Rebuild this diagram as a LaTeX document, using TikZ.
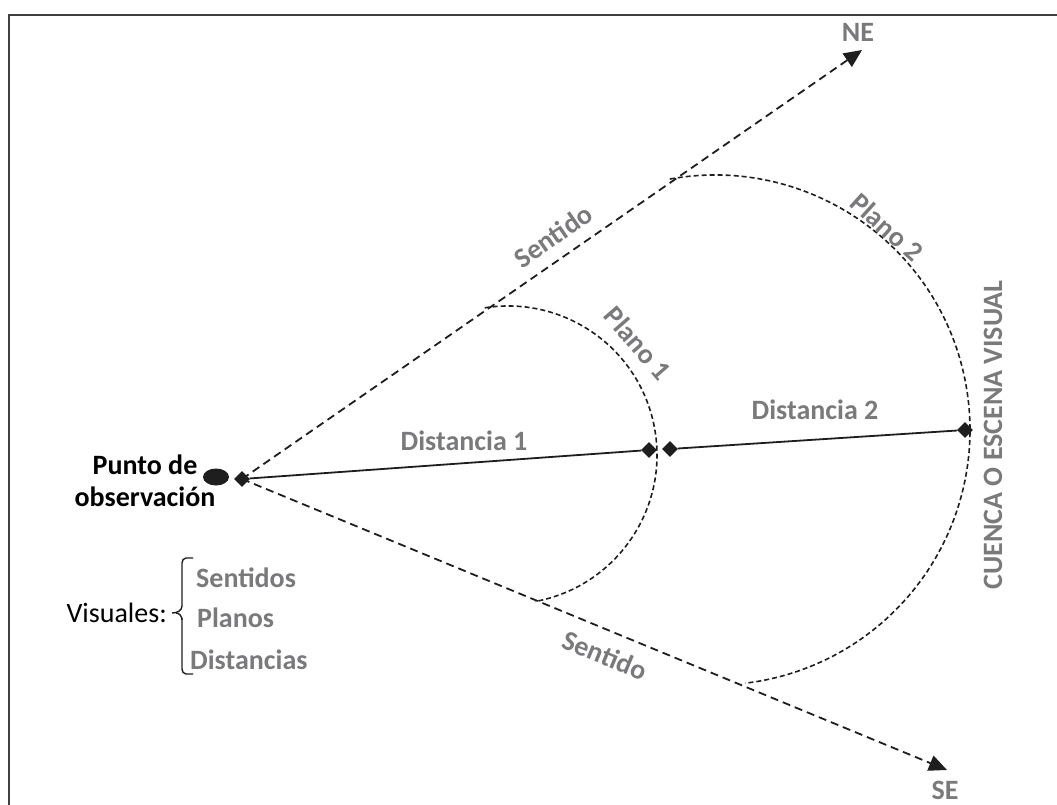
\documentclass[tikz,border=0pt]{standalone}
\usepackage{fontspec}
\setmainfont{Carlito}
\usetikzlibrary{arrows.meta,shapes.geometric}
\definecolor{lbl}{RGB}{122,122,125}
\definecolor{ink}{RGB}{30,30,30}
\tikzset{
  lab/.style={text=lbl,font=\fontsize{28}{30}\selectfont\bfseries,inner sep=0pt},
  sense/.style={draw=ink,line width=1.8pt,dash pattern=on 8pt off 5pt,-{Triangle[length=18pt,width=16pt]}},
  plane/.style={draw=ink,line width=1.6pt,dash pattern=on 5pt off 3pt},
  dist/.style={draw=ink,line width=1.8pt},
  dia/.style={diamond,fill=ink,inner sep=0pt,minimum size=16pt},
  frame/.style={draw=black!75,line width=2pt}
}
\begin{document}
\begin{tikzpicture}[x=1pt,y=-1pt]
\useasboundingbox (0,0) rectangle (1057,805);
\draw[frame] (9,806) -- (9,15) -- (1058,15);
% observer
\node[ellipse,fill=ink,minimum width=26pt,minimum height=17pt,inner sep=0pt] (ojo) at (216,477) {};
\node[dia] (o) at (242,479) {};
\node[dia] (d1) at (649,450) {};
\node[dia] (d2) at (670,449) {};
\node[dia] (d3) at (965,430) {};
\coordinate (ne) at (862,50);
\coordinate (se) at (947,770);
% sense lines
\draw[sense] (o.center) -- (ne);
\draw[sense] (o.center) -- (se);
% planes
\draw[plane] (508,455) ++(-99:149) arc[start angle=-99,end angle=79.5,radius=149];
\draw[plane] (715,430) ++(-100.2:255) arc[start angle=-100.2,end angle=83.2,radius=255];
% distances
\draw[dist] (o) -- (d1);
\draw[dist] (d2) -- (d3);
% labels
\node[lab] (lne) at (858,32) {NE};
\node[lab] (lse) at (945,790) {SE};
\node[lab,rotate=34.7] (s1) at (553,236) {Sentido};
\node[lab,rotate=-22.4] (s2) at (605,655) {Sentido};
\node[lab,rotate=-49] (p1) at (638,343) {Plano 1};
\node[lab,rotate=-42] (p2) at (887,227) {Plano 2};
\node[lab] (t1) at (464,441) {Distancia 1};
\node[lab] (t2) at (815,410) {Distancia 2};
\node[lab,rotate=90] (cu) at (993,435) {CUENCA O ESCENA VISUAL};
\node[font=\fontsize{28}{32}\selectfont\bfseries,align=center,text=black,inner sep=0pt] (pt) at (145,481) {Punto de\\observación};
\node[font=\fontsize{28}{30}\selectfont,anchor=east,inner sep=0pt] (vis) at (167,613) {Visuales:};
\node[lab,anchor=west] (i1) at (196,578) {Sentidos};
\node[lab,anchor=west] (i2) at (197,618) {Planos};
\node[lab,anchor=west] (i3) at (190,660) {Distancias};
% brace
\draw[ink,line width=1.4pt] (193,558) -- (186,558) to[out=180,in=90] (182,563) -- (182,606) to[out=270,in=0] (172,613);
\draw[ink,line width=1.4pt] (182,620) to[out=90,in=0] (176,613);
\draw[ink,line width=1.4pt] (182,618) -- (182,669) to[out=270,in=180] (186,674) -- (193,674);
\end{tikzpicture}
\end{document}
